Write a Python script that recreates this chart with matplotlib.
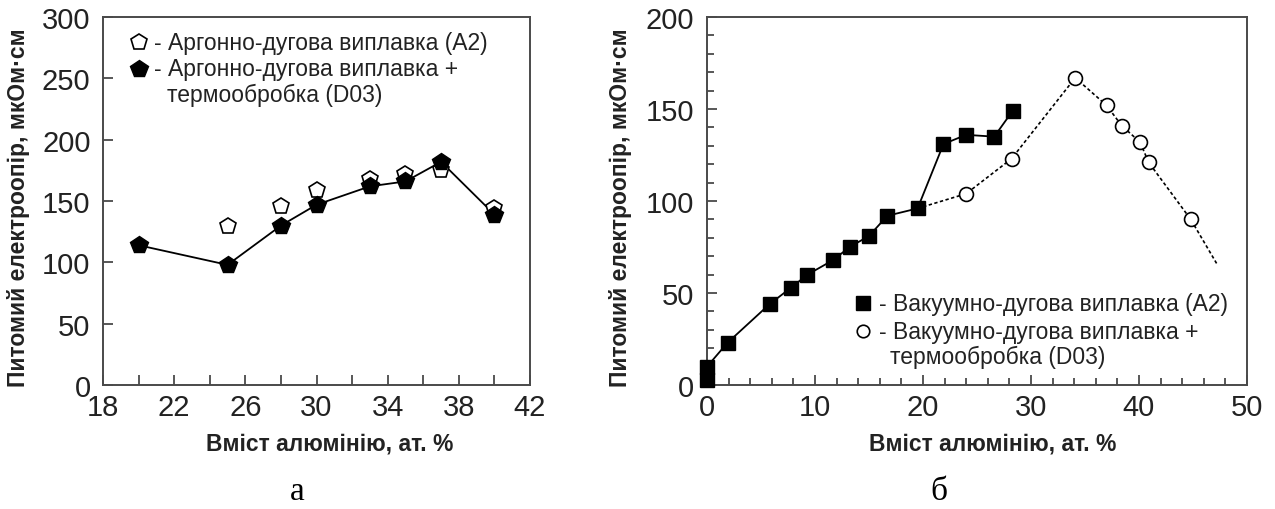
import matplotlib
matplotlib.use('Agg')
import matplotlib.pyplot as plt
from matplotlib.ticker import MultipleLocator

plt.rcParams['font.family'] = ['Liberation Sans', 'DejaVu Sans']

# panel a: argon-arc melting
a_open_x = [25, 28, 30, 33, 35, 37, 40]
a_open_y = [130, 146, 159, 168, 172, 175, 144]
a_fill_x = [20, 25, 28, 30, 33, 35, 37, 40]
a_fill_y = [114, 98, 130, 147, 162, 166, 182, 139]
a_xticks = [18, 22, 26, 30, 34, 38, 42]

# panel b: vacuum-arc melting
b_sq_x = [0, 0, 1.9, 5.8, 7.8, 9.3, 11.7, 13.2, 15.0, 16.7, 19.5, 21.9, 24.0, 26.6, 28.3]
b_sq_y = [3, 10, 23, 44, 53, 60, 68, 75, 81, 92, 96, 131, 136, 135, 149]
b_circ_x = [24.0, 28.2, 34.1, 37.0, 38.4, 40.1, 40.9, 44.8]
b_circ_y = [104, 123, 167, 152, 141, 132, 121, 90]
# dashed curve: starts at the last square before the split, runs past the last circle
b_dash_x = [19.5] + b_circ_x + [47.3]
b_dash_y = [96] + b_circ_y + [65]

ylabel = 'Питомий електроопір, мкОм·см'
xlabel = 'Вміст алюмінію, ат. %'
leg_a = ['- Аргонно-дугова виплавка (А2)', '- Аргонно-дугова виплавка +', 'термообробка (D03)']
leg_b = ['- Вакуумно-дугова виплавка (А2)', '- Вакуумно-дугова виплавка +', 'термообробка (D03)']

spine_c = '#4a4a4a'
text_c = '#222222'

fig = plt.figure(figsize=(12.75, 5.1), dpi=100)
ax1 = fig.add_axes([0.0808, 0.243, 0.3349, 0.7216])
ax2 = fig.add_axes([0.5545, 0.243, 0.4235, 0.7216])


def style(ax, ylab_x):
    for s in ax.spines.values():
        s.set_color(spine_c)
        s.set_linewidth(1.4)
    ax.tick_params(which='both', direction='in', top=False, right=False,
                   color=spine_c, width=1.3, labelsize=21, labelcolor=text_c)
    ax.tick_params(axis='x', pad=6)
    ax.tick_params(axis='y', pad=9)
    ax.tick_params(which='major', length=7)
    ax.tick_params(which='minor', length=5)
    ax.set_xlabel(xlabel, fontsize=16.5, fontweight='bold', color=text_c)
    ax.set_ylabel(ylabel, fontsize=16.5, fontweight='bold', color=text_c)
    ax.xaxis.set_label_coords(0.53, -0.125)
    ax.yaxis.set_label_coords(ylab_x, 0.486)


# --- panel a
ax1.plot(a_fill_x, a_fill_y, color='black', lw=1.3, zorder=2)
ax1.plot(a_open_x, a_open_y, ls='none', marker='p', ms=12, mfc='white', mec='black', mew=1.2, zorder=3)
ax1.plot(a_fill_x, a_fill_y, ls='none', marker='p', ms=13, mfc='black', mec='black', zorder=4)
ax1.set_xlim(18, 42)
ax1.set_ylim(0, 300)
ax1.set_xticks(a_xticks)
ax1.xaxis.set_minor_locator(MultipleLocator(2))
ax1.yaxis.set_major_locator(MultipleLocator(50))
style(ax1, -0.171)
ax1.tick_params(axis='x', which='minor', length=7)

ax1.plot([0.084], [0.932], transform=ax1.transAxes, marker='p', ms=12, mfc='white', mec='black', mew=1.2)
ax1.plot([0.084], [0.859], transform=ax1.transAxes, marker='p', ms=13, mfc='black', mec='black')
ax1.text(0.12, 0.932, leg_a[0], transform=ax1.transAxes, fontsize=16.5, color=text_c, va='center')
ax1.text(0.12, 0.859, leg_a[1], transform=ax1.transAxes, fontsize=16.5, color=text_c, va='center')
ax1.text(0.151, 0.789, leg_a[2], transform=ax1.transAxes, fontsize=16.5, color=text_c, va='center')

# --- panel b
ax2.plot(b_sq_x[1:], b_sq_y[1:], color='black', lw=1.3, zorder=2)
ax2.plot(b_dash_x, b_dash_y, color='black', lw=1.2, ls=(0, (2, 1.5)), zorder=2)
ax2.plot(b_circ_x, b_circ_y, ls='none', marker='o', ms=10, mfc='white', mec='black', mew=1.2, zorder=3)
ax2.plot(b_sq_x, b_sq_y, ls='none', marker='s', ms=10, mfc='black', mec='black', zorder=4, clip_on=False)
ax2.set_xlim(0, 50)
ax2.set_ylim(0, 200)
ax2.xaxis.set_major_locator(MultipleLocator(10))
ax2.xaxis.set_minor_locator(MultipleLocator(2))
ax2.yaxis.set_major_locator(MultipleLocator(50))
ax2.yaxis.set_minor_locator(MultipleLocator(10))
style(ax2, -0.139)

ax2.plot([0.289], [0.222], transform=ax2.transAxes, marker='s', ms=10, mfc='black', mec='black')
ax2.plot([0.289], [0.146], transform=ax2.transAxes, marker='o', ms=9, mfc='white', mec='black', mew=1.2)
ax2.text(0.318, 0.222, leg_b[0], transform=ax2.transAxes, fontsize=16.5, color=text_c, va='center')
ax2.text(0.318, 0.146, leg_b[1], transform=ax2.transAxes, fontsize=16.5, color=text_c, va='center')
ax2.text(0.339, 0.078, leg_b[2], transform=ax2.transAxes, fontsize=16.5, color=text_c, va='center')

# captions
fig.text(0.233, 0.035, 'а', fontsize=24, family='Liberation Serif', ha='center', va='center')
fig.text(0.736, 0.035, 'б', fontsize=24, family='Liberation Serif', ha='center', va='center')

fig.savefig('out.png', dpi=100, facecolor='white')
